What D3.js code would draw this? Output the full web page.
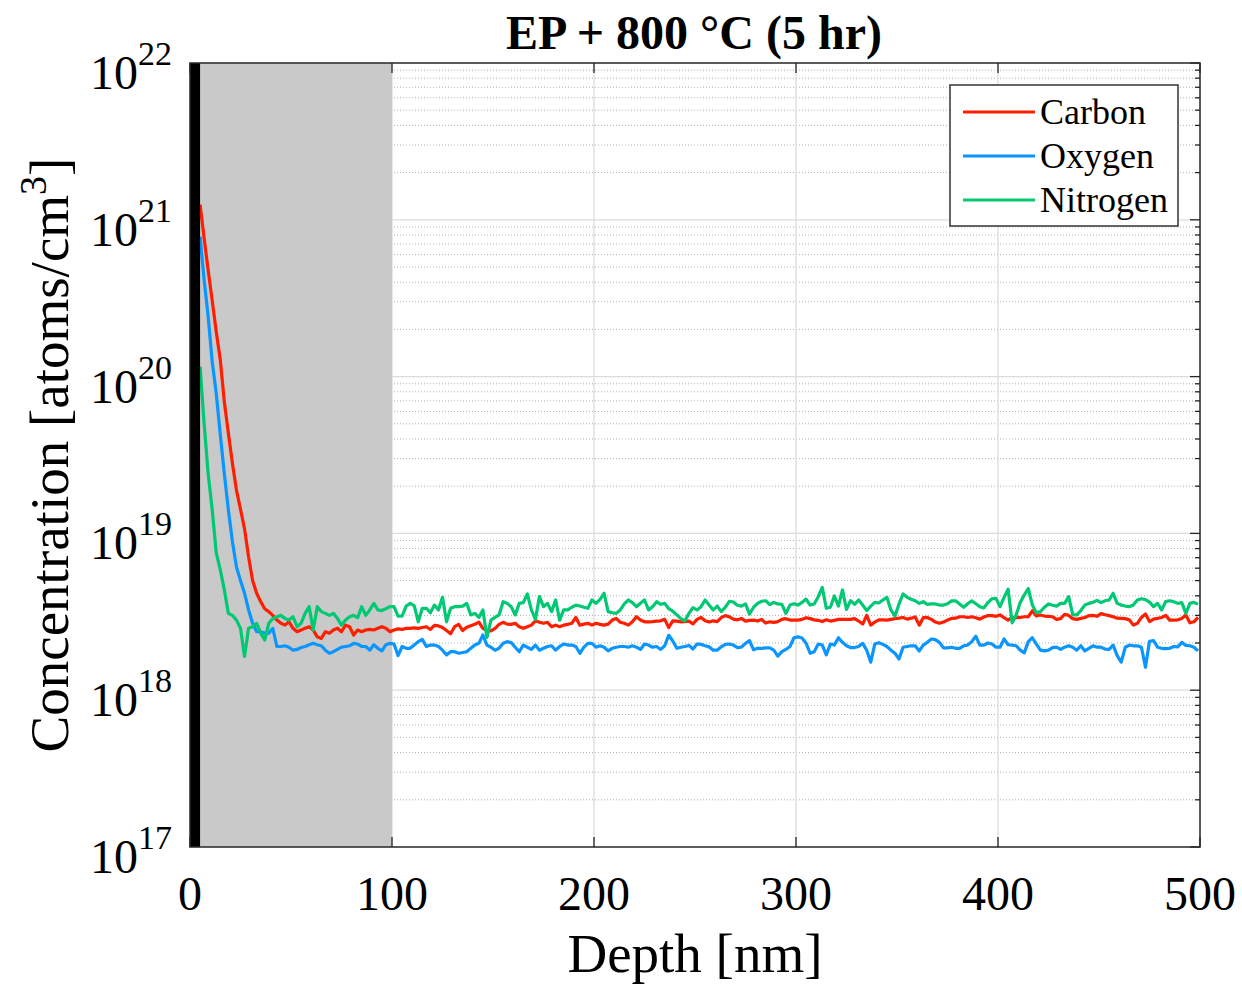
<!DOCTYPE html>
<html>
<head>
<meta charset="utf-8">
<script src="https://cdn.jsdelivr.net/npm/d3@7"></script>
<style>
  body { margin: 0; background: #fff; }
  svg text { font-family: "Liberation Serif", "Times New Roman", serif; fill: #000; }
</style>
</head>
<body>
<div id="chart"></div>
<script>
// SIMS profile, units of 1e18 atoms/cm^3, one value every 2 nm from 5 nm
const carbon = [
  1250, 762, 476, 305, 193, 128, 69, 43.5, 28, 18.9, 14.3, 10.7, 7.1, 5.0, 4.15, 3.67, 3.31, 3.17, 3.0, 2.8,
  2.67, 2.6, 2.73, 2.48, 2.36, 2.42, 2.48, 2.54, 2.42, 2.19, 2.14, 2.36, 2.31, 2.42, 2.48, 2.36, 2.6, 2.54, 2.25, 2.42,
  2.36, 2.42, 2.44, 2.42, 2.48, 2.54, 2.48, 2.36,
  2.42, 2.46, 2.44, 2.48, 2.48, 2.50, 2.48, 2.51, 2.54, 2.44, 2.59, 2.57, 2.51, 2.40, 2.29, 2.54, 2.63, 2.40, 2.52, 2.58,
  2.63, 2.72, 2.48, 2.40, 2.39, 2.48, 2.63, 2.71, 2.64, 2.63, 2.67, 2.54, 2.48, 2.54, 2.60, 2.77, 2.71, 2.67, 2.71, 2.54,
  2.60, 2.54, 2.60, 2.63, 2.67, 2.91, 2.60, 2.64, 2.67, 2.60, 2.67, 2.63, 2.60, 2.64, 2.80, 2.87, 2.71, 2.67, 2.60, 2.73,
  2.94, 2.80, 2.73, 2.73, 2.74, 2.76,
  2.77, 2.83, 2.51, 2.77, 2.76, 2.73, 2.74, 2.76, 2.65, 2.83, 2.91, 2.77, 2.72, 2.77, 2.74, 2.90, 2.99, 2.94, 2.84, 2.81,
  2.87, 2.76, 2.79, 2.80, 2.76, 2.83, 2.68, 2.73, 2.71, 2.74, 2.83, 2.86, 2.80, 2.80, 2.80, 2.83, 2.90, 2.86, 2.81, 2.79,
  2.74, 2.81, 2.76, 2.79, 2.83, 2.83, 2.83, 2.83, 2.86, 2.76, 2.64, 3.00, 2.60, 2.72, 2.81, 2.81, 2.80, 2.83, 2.86, 2.88,
  2.91, 2.84, 2.88, 2.93, 2.60,
  2.90, 2.91, 2.83, 2.72, 2.67, 2.72, 2.80, 2.87, 2.88, 2.94, 2.94, 2.91, 2.94, 2.90, 2.84, 2.93, 2.99, 2.99, 2.96, 3.02,
  2.90, 2.80, 2.91, 2.90, 2.91, 2.94, 2.94, 3.21, 2.97, 3.02, 2.97, 2.96, 2.94, 2.83, 2.86, 3.05, 3.00, 2.86, 2.83, 2.87,
  2.91, 2.99, 3.00, 2.96, 3.08, 3.03, 2.99, 2.94, 2.88, 2.87, 2.86, 2.81, 2.60, 2.67, 2.91, 3.06, 2.74, 2.84, 2.87, 2.91,
  3.00, 2.80, 2.80, 2.81, 2.87, 3.02, 2.69, 2.73, 2.91
];
const oxygen = [
  780, 413, 241, 124, 78, 42.5, 24, 14.1, 8.85, 6.1, 5.0, 4.15, 3.25, 2.67, 2.36, 2.36, 2.31, 2.31, 2.48, 1.9,
  1.9, 1.92, 1.88, 1.8, 1.82, 1.87, 1.9, 1.95, 1.99, 1.95, 1.92, 1.8, 1.72, 1.76, 1.82, 1.88, 1.9, 1.92, 1.99, 1.97,
  1.9, 1.9, 1.8, 1.95, 1.85, 1.78, 1.95, 1.99,
  1.97, 1.66, 1.90, 1.85, 1.85, 1.94, 2.04, 2.11, 1.90, 1.94, 1.94, 1.90, 1.80, 1.68, 1.76, 1.76, 1.72, 1.74, 1.76, 1.85,
  1.94, 1.99, 2.25, 1.94, 1.88, 1.80, 1.85, 1.99, 2.04, 2.01, 1.88, 1.76, 1.94, 1.88, 1.82, 1.94, 1.80, 1.85, 1.90, 1.92,
  1.80, 1.90, 1.97, 1.94, 1.94, 1.90, 1.72, 1.88, 1.99, 1.99, 1.88, 1.92, 1.88, 1.78, 1.85, 1.88, 1.90, 1.90, 1.88, 1.92,
  1.88, 1.82, 1.97, 1.94, 1.88, 1.90,
  1.82, 1.92, 2.24, 2.06, 1.85, 1.88, 1.90, 1.93, 1.83, 1.97, 1.96, 1.92, 1.89, 1.80, 1.80, 1.89, 1.96, 1.97, 1.94, 1.87,
  1.88, 1.99, 2.07, 1.81, 1.85, 1.85, 1.86, 1.86, 1.80, 1.65, 1.76, 1.82, 1.90, 2.16, 2.19, 2.15, 1.99, 1.72, 1.76, 1.97,
  1.94, 1.68, 1.97, 1.94, 2.16, 2.02, 1.92, 1.87, 1.87, 1.90, 1.99, 1.80, 1.51, 1.97, 2.01, 1.96, 1.90, 1.80, 1.72, 1.58,
  1.88, 1.90, 1.92, 1.92, 1.78,
  1.94, 2.02, 2.12, 2.10, 2.02, 1.86, 1.86, 1.88, 1.85, 1.85, 1.92, 1.94, 2.04, 2.21, 1.94, 1.94, 2.00, 1.97, 1.88, 1.88,
  2.12, 1.95, 1.94, 1.92, 1.80, 1.73, 2.04, 2.16, 1.97, 1.80, 1.78, 1.80, 1.87, 1.88, 1.82, 1.88, 1.92, 1.88, 1.80, 1.92,
  1.78, 1.85, 1.92, 1.88, 1.88, 1.83, 1.82, 1.94, 1.66, 1.51, 1.88, 1.94, 1.92, 1.92, 1.88, 1.40, 2.05, 2.07, 1.88, 1.85,
  1.84, 1.85, 1.90, 1.89, 2.02, 1.93, 1.92, 1.88, 1.78
];
const nitrogen = [
  116, 50, 24, 14.1, 7.5, 5.85, 4.36, 3.09, 3.0, 2.8, 2.48, 1.64, 2.48, 2.54, 2.67, 2.31, 2.09, 2.67, 2.87, 2.94,
  3.0, 2.87, 2.8, 2.94, 2.54, 2.67, 3.09, 3.41, 2.42, 3.41, 3.17, 3.09, 3.0, 3.09, 2.87, 2.6, 2.8, 2.94, 3.0, 2.9,
  3.41, 3.0, 3.25, 3.58, 3.25, 3.22, 3.31, 3.41,
  3.41, 2.97, 2.97, 3.44, 3.58, 3.46, 2.73, 3.33, 3.33, 3.12, 3.49, 3.25, 3.91, 2.73, 3.33, 3.41, 3.41, 3.44, 3.58, 3.02,
  3.09, 2.91, 3.25, 2.17, 2.80, 2.91, 3.02, 3.67, 3.58, 3.41, 3.02, 3.58, 3.62, 4.11, 3.25, 2.83, 3.95, 3.41, 3.58, 3.17,
  3.76, 2.80, 3.25, 3.25, 3.38, 3.49, 3.44, 3.38, 3.33, 3.76, 3.58, 3.80, 4.15, 3.17, 3.12, 3.09, 3.25, 3.55, 3.76, 3.62,
  3.41, 3.58, 3.76, 3.25, 3.41, 3.67,
  3.53, 3.58, 3.31, 3.19, 3.02, 2.86, 2.77, 3.09, 3.36, 3.25, 3.41, 3.76, 3.49, 3.25, 3.44, 3.17, 3.38, 3.69, 3.65, 3.48,
  3.44, 3.55, 3.06, 3.38, 3.58, 3.69, 3.72, 3.51, 3.63, 3.55, 3.53, 3.09, 3.49, 3.56, 3.49, 3.63, 3.81, 3.49, 3.55, 3.95,
  4.52, 3.33, 3.38, 3.99, 3.44, 4.36, 3.28, 3.72, 3.53, 3.76, 3.49, 3.22, 3.44, 3.63, 3.60, 3.76, 3.91, 3.25, 2.97, 3.55,
  4.11, 3.91, 3.80, 3.72, 3.58,
  3.67, 3.53, 3.55, 3.55, 3.49, 3.49, 3.56, 3.71, 3.72, 3.55, 3.38, 3.56, 3.71, 3.56, 3.41, 3.35, 3.62, 3.83, 3.85, 3.41,
  3.91, 4.41, 2.69, 3.02, 3.62, 4.05, 4.45, 3.49, 3.12, 3.17, 3.38, 3.55, 3.48, 3.44, 3.58, 3.58, 3.95, 3.02, 3.02, 3.22,
  3.49, 3.58, 3.63, 3.74, 3.62, 3.72, 3.76, 4.15, 3.58, 3.49, 3.44, 3.41, 3.49, 3.76, 3.83, 3.78, 3.65, 3.41, 3.58, 3.25,
  3.67, 3.72, 3.67, 3.58, 3.62, 3.09, 3.58, 3.63, 3.53
];
const depthStart = 5;   // nm
const depthStep = 2;    // nm
const unit = 1e18;

const seriesNames = ['Carbon', 'Oxygen', 'Nitrogen'];
const seriesColors = ['#ff1e00', '#0a95ff', '#00c873'];
const xTicks = [0, 100, 200, 300, 400, 500];
const yExponents = [17, 18, 19, 20, 21, 22];
const blackBand = [0, 5];
const greyBand = [5, 100];

const W = 1242, H = 984;
const pLeft = 190, pRight = 1200, pTop = 63, pBottom = 847;

const x = d3.scaleLinear().domain([0, 500]).range([pLeft, pRight]);
const y = d3.scaleLog().domain([1e17, 1e22]).range([pBottom, pTop]);

const depth = carbon.map((v, i) => depthStart + i * depthStep);
const series = [carbon, oxygen, nitrogen].map((vals, k) => ({
  name: seriesNames[k],
  color: seriesColors[k],
  points: vals.map((v, i) => [depth[i], v * unit])
}));

const svg = d3.select('#chart').append('svg')
  .attr('width', W)
  .attr('height', H);

svg.append('defs').append('clipPath').attr('id', 'plotclip')
  .append('rect')
  .attr('x', pLeft).attr('y', pTop)
  .attr('width', pRight - pLeft).attr('height', pBottom - pTop);

// grid
const minorVals = [];
yExponents.slice(0, -1).forEach(e => {
  for (let m = 2; m <= 9; m++) minorVals.push(m * Math.pow(10, e));
});
const grid = svg.append('g');
grid.selectAll('line.minor').data(minorVals).enter().append('line')
  .attr('x1', pLeft).attr('x2', pRight)
  .attr('y1', d => y(d)).attr('y2', d => y(d))
  .attr('stroke', '#b0b0b0').attr('stroke-width', 1)
  .attr('stroke-dasharray', '1,2');
grid.selectAll('line.major').data(yExponents.slice(1, -1)).enter().append('line')
  .attr('x1', pLeft).attr('x2', pRight)
  .attr('y1', d => y(Math.pow(10, d))).attr('y2', d => y(Math.pow(10, d)))
  .attr('stroke', '#dcdcdc').attr('stroke-width', 1.3);
grid.selectAll('line.xg').data(xTicks.slice(1, -1)).enter().append('line')
  .attr('x1', d => x(d)).attr('x2', d => x(d))
  .attr('y1', pTop).attr('y2', pBottom)
  .attr('stroke', '#dcdcdc').attr('stroke-width', 1.3);

// shaded bands
svg.append('rect')
  .attr('x', x(greyBand[0])).attr('y', pTop)
  .attr('width', x(greyBand[1]) - x(greyBand[0])).attr('height', pBottom - pTop)
  .attr('fill', '#c9c9c9');

// profiles
const line = d3.line()
  .x(d => x(d[0]))
  .y(d => y(d[1]));

svg.append('g').attr('clip-path', 'url(#plotclip)')
  .selectAll('path').data(series).enter().append('path')
  .attr('d', d => line(d.points))
  .attr('fill', 'none')
  .attr('stroke', d => d.color)
  .attr('stroke-width', 3.2)
  .attr('stroke-linejoin', 'round');

svg.append('rect')
  .attr('x', x(blackBand[0])).attr('y', pTop)
  .attr('width', x(blackBand[1]) - x(blackBand[0])).attr('height', pBottom - pTop)
  .attr('fill', '#000');

// axes box and inward ticks
const axisColor = '#262626';
svg.append('rect')
  .attr('x', pLeft).attr('y', pTop)
  .attr('width', pRight - pLeft).attr('height', pBottom - pTop)
  .attr('fill', 'none').attr('stroke', axisColor).attr('stroke-width', 1.5);

const ticks = svg.append('g').attr('stroke', axisColor).attr('stroke-width', 1.3);
xTicks.forEach(t => {
  ticks.append('line').attr('x1', x(t)).attr('x2', x(t)).attr('y1', pBottom).attr('y2', pBottom - 10);
  ticks.append('line').attr('x1', x(t)).attr('x2', x(t)).attr('y1', pTop).attr('y2', pTop + 10);
});
yExponents.forEach(e => {
  ticks.append('line').attr('x1', pRight).attr('x2', pRight - 10)
    .attr('y1', y(Math.pow(10, e))).attr('y2', y(Math.pow(10, e)));
});
minorVals.forEach(v => {
  ticks.append('line').attr('x1', pRight).attr('x2', pRight - 5).attr('y1', y(v)).attr('y2', y(v));
});

// tick labels
svg.append('g').selectAll('text').data(xTicks).enter().append('text')
  .attr('x', d => x(d)).attr('y', 910)
  .attr('text-anchor', 'middle')
  .attr('font-size', 48)
  .text(d => d);

const yl = svg.append('g').selectAll('text').data(yExponents).enter().append('text')
  .attr('x', 172).attr('y', d => y(Math.pow(10, d)) + 26)
  .attr('text-anchor', 'end');
yl.append('tspan').attr('font-size', 48).text('10');
yl.append('tspan').attr('font-size', 34).attr('dy', -24).text(d => d);

// axis titles
svg.append('text')
  .attr('x', (pLeft + pRight) / 2).attr('y', 972)
  .attr('text-anchor', 'middle')
  .attr('font-size', 55)
  .text('Depth [nm]');

const ylab = svg.append('text')
  .attr('transform', 'translate(68,' + ((pTop + pBottom) / 2) + ') rotate(-90)')
  .attr('text-anchor', 'middle')
  .attr('font-size', 55);
ylab.append('tspan').text('Concentration [atoms/cm');
ylab.append('tspan').attr('font-size', 38).attr('dy', -22).text('3');
ylab.append('tspan').attr('dy', 22).text(']');

svg.append('text')
  .attr('x', 694).attr('y', 49)
  .attr('text-anchor', 'middle')
  .attr('font-size', 48)
  .attr('font-weight', 'bold')
  .text('EP + 800 °C (5 hr)');

// legend
const legend = svg.append('g');
legend.append('rect')
  .attr('x', 950).attr('y', 85).attr('width', 228).attr('height', 141)
  .attr('fill', '#fff').attr('stroke', '#333').attr('stroke-width', 1.5);
const items = legend.selectAll('g.item').data(series).enter().append('g')
  .attr('transform', (d, i) => 'translate(0,' + (112 + i * 44) + ')');
items.append('line')
  .attr('x1', 963).attr('x2', 1035).attr('y1', 0).attr('y2', 0)
  .attr('stroke', d => d.color).attr('stroke-width', 3.2);
items.append('text')
  .attr('x', 1040).attr('y', 12)
  .attr('font-size', 36)
  .text(d => d.name);
</script>
</body>
</html>
